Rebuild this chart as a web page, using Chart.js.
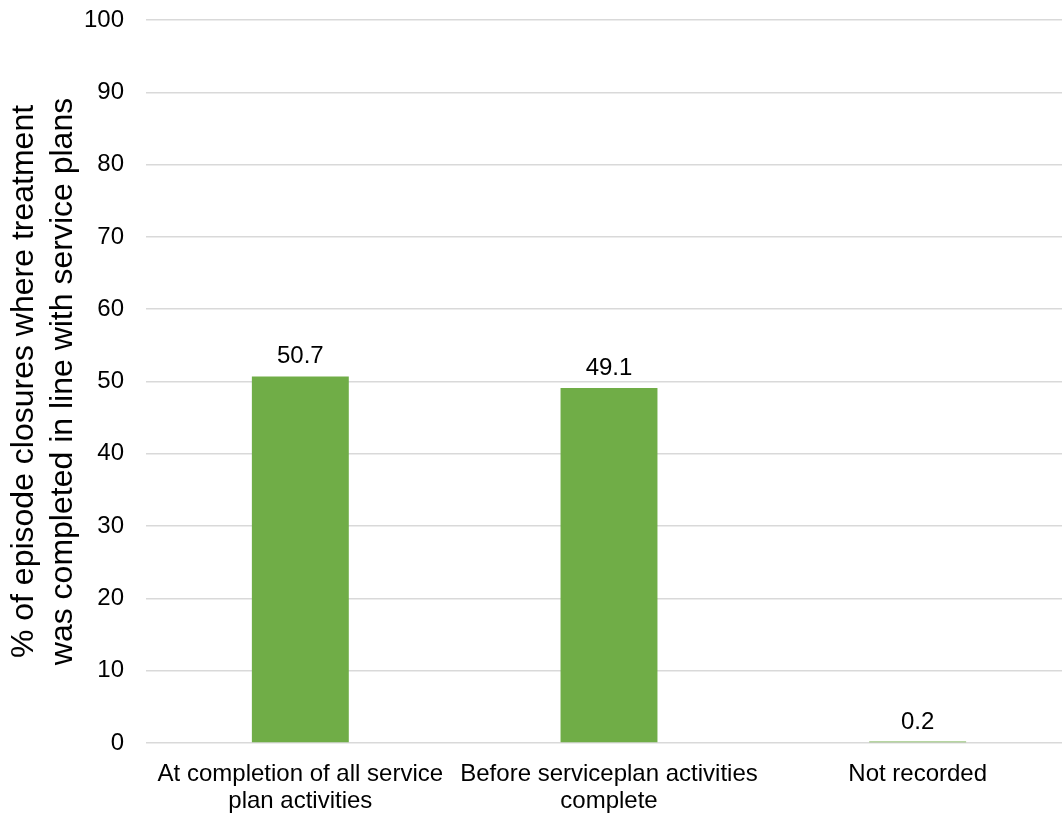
<!DOCTYPE html>
<html>
<head>
<meta charset="utf-8">
<script src="https://cdn.jsdelivr.net/npm/chart.js@4.4.0/dist/chart.umd.min.js"></script>
<style>
  html, body { margin: 0; padding: 0; background: #ffffff; overflow: hidden; }
  /* the plot runs slightly past the right edge of the window */
  #wrap { width: 1072px; height: 816px; }
</style>
</head>
<body>
<div id="wrap"><canvas id="c"></canvas></div>
<script>
// Episode closures by point at which treatment was completed
const categories = [
  ['At completion of all service', 'plan activities'],
  ['Before serviceplan activities', 'complete'],
  'Not recorded'
];
const percentValues = [50.7, 49.1, 0.2];
const yTickValues = [0, 10, 20, 30, 40, 50, 60, 70, 80, 90, 100];
const yTitleLines = ['% of episode closures where treatment', 'was completed in line with service plans'];

const FONT = '"Liberation Sans", Arial, sans-serif';

// Writes each bar's value just above the bar
const valueLabels = {
  id: 'valueLabels',
  afterDatasetsDraw(chart) {
    const ctx = chart.ctx;
    const meta = chart.getDatasetMeta(0);
    ctx.save();
    ctx.font = '24px ' + FONT;
    ctx.fillStyle = '#000000';
    ctx.textAlign = 'center';
    ctx.textBaseline = 'alphabetic';
    meta.data.forEach((bar, i) => {
      ctx.fillText(percentValues[i].toFixed(1), bar.x, bar.y - 13);
    });
    ctx.restore();
  }
};

new Chart(document.getElementById('c'), {
  type: 'bar',
  data: {
    labels: categories,
    datasets: [{
      data: percentValues,
      backgroundColor: '#70ad47',
      borderWidth: 0,
      categoryPercentage: 1.0,
      barPercentage: 0.314
    }]
  },
  options: {
    responsive: true,
    maintainAspectRatio: false,
    animation: false,
    devicePixelRatio: 1,
    layout: { padding: { top: 20, right: 0, left: 0, bottom: 0 } },
    plugins: {
      legend: { display: false },
      tooltip: { enabled: false }
    },
    scales: {
      x: {
        grid: { display: false, drawTicks: false },
        border: { display: false },
        ticks: {
          color: '#000000',
          font: { family: FONT, size: 24, lineHeight: 1.13 },
          padding: 18,
          maxRotation: 0,
          autoSkip: false
        },
        afterFit(scale) {
          scale.height = 73;
          scale.paddingLeft = 0;
          scale.paddingRight = 0;
        }
      },
      y: {
        min: 0,
        max: 100,
        afterBuildTicks(scale) { scale.ticks = yTickValues.map(v => ({ value: v })); },
        grid: { color: '#d9d9d9', lineWidth: 1.5, drawTicks: false },
        border: { display: false },
        ticks: {
          color: '#000000',
          font: { family: FONT, size: 24 },
          padding: 22
        },
        title: {
          display: true,
          text: yTitleLines,
          color: '#000000',
          font: { family: FONT, size: 32, lineHeight: 1.22 },
          padding: { top: 5, bottom: 0 }
        },
        afterFit(scale) {
          scale.width = 146;
          scale.paddingTop = 0;
          scale.paddingBottom = 0;
        }
      }
    }
  },
  plugins: [valueLabels]
});
</script>
</body>
</html>
